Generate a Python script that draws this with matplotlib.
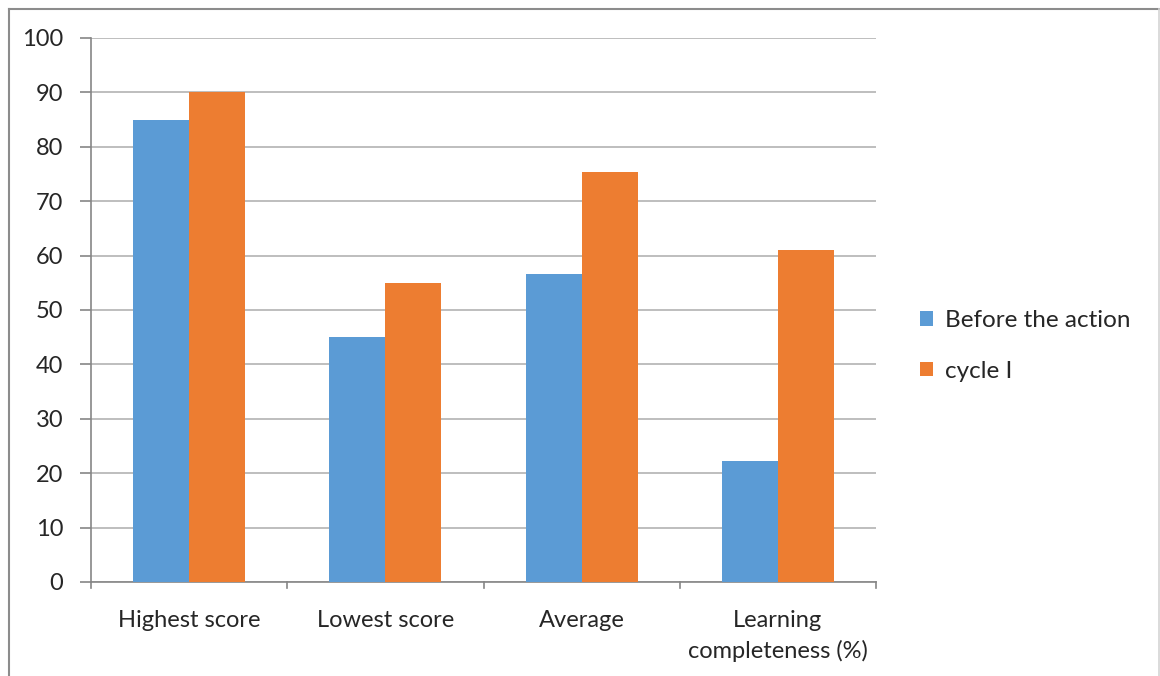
import matplotlib
matplotlib.use("Agg")
import matplotlib.pyplot as plt
from matplotlib.lines import Line2D
from matplotlib.patches import Patch
import numpy as np

categories = ["Highest score", "Lowest score", "Average", "Learning\ncompleteness (%)"]
before_action = [85, 45, 56.7, 22.2]
cycle_one = [90, 55, 75.3, 61.1]
series_names = ["Before the action", "cycle I"]
y_ticks = [0, 10, 20, 30, 40, 50, 60, 70, 80, 90, 100]

BLUE = "#5b9bd5"
ORANGE = "#ed7d31"
AXIS_GRAY = "#868686"
GRID_GRAY = "#b3b3b3"
TEXT = "#262626"
FS = 17

plt.rcParams["font.family"] = ["Lato", "DejaVu Sans"]

W, H = 1160, 676
fig = plt.figure(figsize=(W / 100, H / 100), dpi=100)
fig.patch.set_facecolor("white")

left, right, top, bottom = 91, 876, 38, 582
ax = fig.add_axes([left / W, 1 - bottom / H, (right - left) / W, (bottom - top) / H])

x = np.arange(len(categories))
bw = 1 / 3.5
ax.bar(x - bw / 2, before_action, width=bw, color=BLUE, zorder=3, linewidth=0)
ax.bar(x + bw / 2, cycle_one, width=bw, color=ORANGE, zorder=3, linewidth=0)

ax.set_xlim(-0.5, len(categories) - 0.5)
ax.set_ylim(0, 100)
ax.set_yticks(y_ticks)
ax.set_yticklabels([str(v) for v in y_ticks], fontsize=FS, color=TEXT)
ax.yaxis.grid(True, color=GRID_GRAY, linewidth=1.2, zorder=0)
ax.set_axisbelow(True)

ax.set_xticks(x)
ax.set_xticklabels(categories, fontsize=FS, color=TEXT, linespacing=1.5)
ax.tick_params(axis="x", length=0, pad=20)
ax.tick_params(axis="y", length=8, color=AXIS_GRAY, width=1.2, pad=12)

# category separator ticks under the x axis
for b in np.arange(-0.5, len(categories), 1.0):
    ax.plot([b, b], [0, -1.1], color=AXIS_GRAY, linewidth=1.2, clip_on=False, zorder=4)

for side in ("top", "right"):
    ax.spines[side].set_visible(False)
ax.spines["left"].set_color(AXIS_GRAY)
ax.spines["bottom"].set_color(AXIS_GRAY)
ax.spines["left"].set_linewidth(1.2)
ax.spines["bottom"].set_linewidth(1.2)

handles = [Patch(facecolor=BLUE, edgecolor="none"), Patch(facecolor=ORANGE, edgecolor="none")]
fig.legend(handles, series_names, loc="center left",
           bbox_to_anchor=(898 / W, 1 - 346 / H), frameon=False,
           fontsize=17.5, handlelength=0.55, handleheight=0.55, handletextpad=0.5,
           labelspacing=1.2, labelcolor=TEXT)

# chart frame
fig.add_artist(Line2D([9 / W, 1159 / W], [1 - 9 / H, 1 - 9 / H], color="#8c8c8c", linewidth=1.5))
fig.add_artist(Line2D([9 / W, 9 / W], [0, 1 - 9 / H], color="#8c8c8c", linewidth=1.5))
fig.add_artist(Line2D([1159 / W, 1159 / W], [0, 1 - 9 / H], color="#d4d4d4", linewidth=1.2))

fig.savefig("out.png", dpi=100, facecolor="white")
